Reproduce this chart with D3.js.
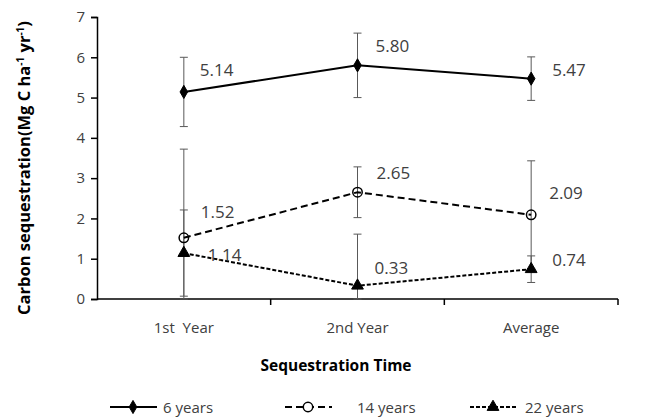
<!DOCTYPE html>
<html>
<head>
<meta charset="utf-8">
<script src="https://cdn.jsdelivr.net/npm/d3@7"></script>
<style>
  body { margin: 0; background: #fff; }
  text { font-family: "Open Sans", "Noto Sans", sans-serif; }
</style>
</head>
<body>
<svg id="chart" width="667" height="419"></svg>
<script>
// values
const categories = ["1st  Year", "2nd Year", "Average"];
const seriesNames = ["6 years", "14 years", "22 years"];
const sixYears = [5.14, 5.80, 5.47];
const fourteenYears = [1.52, 2.65, 2.09];
const twentyTwoYears = [1.14, 0.33, 0.74];
const sixYearsErr = [0.86, 0.80, 0.54];
const fourteenYearsErr = [2.20, 0.63, 1.34];
const twentyTwoYearsErr = [1.07, 1.28, 0.33];
const yTicks = [0, 1, 2, 3, 4, 5, 6, 7];

// label nudges (px), placed by hand in the original
const labelOffsets = [
    [[16, -22], [18, -20], [21, -9]],
    [[17, -26], [19, -20], [18, -22]],
    [[24, 1], [17, -18], [21, -10]]
];

const series = [
    { name: seriesNames[0], values: sixYears, err: sixYearsErr, dash: null, symbol: d3.symbolDiamond, size: 50, fill: "#000" },
    { name: seriesNames[1], values: fourteenYears, err: fourteenYearsErr, dash: "7,4", symbol: d3.symbolCircle, size: 70, fill: "none" },
    { name: seriesNames[2], values: twentyTwoYears, err: twentyTwoYearsErr, dash: "4,2", symbol: d3.symbolTriangle, size: 60, fill: "#000" }
];

const svg = d3.select("#chart");
const plot = { left: 97, right: 618, top: 17, bottom: 299 };

const x = d3.scaleBand()
    .domain(categories)
    .range([plot.left, plot.right]);

const y = d3.scaleLinear()
    .domain([0, 7])
    .range([plot.bottom, plot.top]);

const cx = c => x(c) + x.bandwidth() / 2;

// y axis
const yAxis = svg.append("g")
    .attr("transform", `translate(${plot.left},0)`)
    .call(d3.axisLeft(y).tickValues(yTicks).tickFormat(d3.format("d")).tickSize(6).tickPadding(6));
yAxis.select(".domain").attr("stroke", "#000").attr("stroke-width", 1.5);
yAxis.selectAll(".tick line").attr("stroke", "#000").attr("stroke-width", 1.5);
yAxis.selectAll(".tick text")
    .attr("font-size", 15)
    .attr("fill", "#404040")
    .style("font-family", "Open Sans");

// x axis: ticks sit on band edges, labels in the middle
const xg = svg.append("g");
xg.append("line")
    .attr("x1", plot.left).attr("x2", plot.right)
    .attr("y1", plot.bottom).attr("y2", plot.bottom)
    .attr("stroke", "#000").attr("stroke-width", 1.5);
const edges = categories.map(c => x(c)).concat([x(categories[categories.length - 1]) + x.bandwidth()]);
xg.selectAll("line.tick")
    .data(edges.slice(1))
    .join("line")
    .attr("class", "tick")
    .attr("x1", d => d).attr("x2", d => d)
    .attr("y1", plot.bottom).attr("y2", plot.bottom + 6)
    .attr("stroke", "#000").attr("stroke-width", 1.5);
xg.selectAll("text")
    .data(categories)
    .join("text")
    .attr("x", d => cx(d))
    .attr("y", 333)
    .attr("text-anchor", "middle")
    .attr("font-size", 15)
    .attr("fill", "#404040")
    .style("white-space", "pre")
    .text(d => d);

// axis titles
svg.append("text")
    .attr("x", 336)
    .attr("y", 371)
    .attr("text-anchor", "middle")
    .attr("font-size", 15.5)
    .attr("font-weight", "bold")
    .attr("fill", "#000")
    .text("Sequestration Time");

const yTitle = svg.append("text")
    .attr("transform", "translate(30,168) rotate(-90)")
    .attr("text-anchor", "middle")
    .attr("font-size", 16.5)
    .attr("font-weight", "bold")
    .attr("fill", "#000");
yTitle.append("tspan").text("Carbon sequestration(Mg C ha");
yTitle.append("tspan").attr("dy", -6).attr("font-size", 10).text("-1");
yTitle.append("tspan").attr("dy", 6).text(" yr");
yTitle.append("tspan").attr("dy", -6).attr("font-size", 10).text("-1");
yTitle.append("tspan").attr("dy", 6).text(")");

// error bars (clipped at zero)
series.forEach(s => {
    const g = svg.append("g").attr("stroke", "#595959").attr("stroke-width", 1);
    categories.forEach((c, i) => {
        const hi = y(s.values[i] + s.err[i]);
        const lo = y(Math.max(0, s.values[i] - s.err[i]));
        g.append("line").attr("x1", cx(c)).attr("x2", cx(c)).attr("y1", hi).attr("y2", lo);
        g.append("line").attr("x1", cx(c) - 4).attr("x2", cx(c) + 4).attr("y1", hi).attr("y2", hi);
        g.append("line").attr("x1", cx(c) - 4).attr("x2", cx(c) + 4).attr("y1", lo).attr("y2", lo);
    });
});

const line = d3.line()
    .x((d, i) => cx(categories[i]))
    .y(d => y(d));

series.forEach((s, si) => {
    svg.append("path")
        .datum(s.values)
        .attr("d", line)
        .attr("fill", "none")
        .attr("stroke", "#000")
        .attr("stroke-width", 2)
        .attr("stroke-dasharray", s.dash);

    svg.selectAll(null)
        .data(s.values)
        .join("path")
        .attr("transform", (d, i) => `translate(${cx(categories[i])},${y(d)})`)
        .attr("d", d3.symbol().type(s.symbol).size(s.size))
        .attr("fill", s.fill)
        .attr("stroke", "#000")
        .attr("stroke-width", s.fill === "none" ? 1.5 : 1);

    svg.selectAll(null)
        .data(s.values)
        .join("text")
        .attr("x", (d, i) => cx(categories[i]) + labelOffsets[si][i][0])
        .attr("y", (d, i) => y(d) + labelOffsets[si][i][1])
        .attr("dominant-baseline", "central")
        .attr("font-size", 17)
        .attr("fill", "#404040")
        .text(d => d.toFixed(2));
});

// legend
const legendX = [110, 285, 470];
const legend = svg.append("g");
series.forEach((s, i) => {
    const g = legend.append("g").attr("transform", `translate(${legendX[i]},407)`);
    g.append("line")
        .attr("x1", 0).attr("x2", 47)
        .attr("stroke", "#000").attr("stroke-width", 2)
        .attr("stroke-dasharray", s.dash);
    g.append("path")
        .attr("transform", "translate(23,0)")
        .attr("d", d3.symbol().type(s.symbol).size(s.size))
        .attr("fill", s.fill === "none" ? "#fff" : s.fill)
        .attr("stroke", "#000")
        .attr("stroke-width", s.fill === "none" ? 1.5 : 1);
    g.append("text")
        .attr("x", i === 0 ? 53 : (i === 1 ? 72 : 55))
        .attr("dominant-baseline", "central")
        .attr("font-size", 15)
        .attr("fill", "#404040")
        .text(s.name);
});
</script>
</body>
</html>
